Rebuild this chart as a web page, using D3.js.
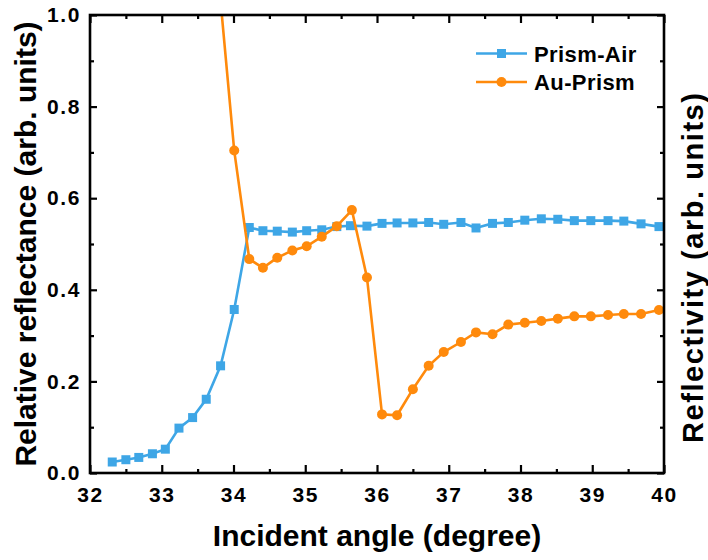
<!DOCTYPE html>
<html>
<head>
<meta charset="utf-8">
<script src="https://cdn.jsdelivr.net/npm/d3@7"></script>
<style>
  body { margin: 0; background: #fff; }
  svg { display: block; }
</style>
</head>
<body>
<svg id="chart"></svg>
<script>
// values
const airAngles = [32.31, 32.50, 32.68, 32.87, 33.05, 33.24, 33.43, 33.62, 33.82, 34.01,
  34.22, 34.41, 34.61, 34.82, 35.02, 35.23, 35.44, 35.63, 35.86, 36.07, 36.28, 36.50,
  36.72, 36.93, 37.17, 37.38, 37.61, 37.83, 38.06, 38.29, 38.52, 38.75, 38.98, 39.22,
  39.44, 39.68, 39.93];
const airValues = [0.024, 0.029, 0.034, 0.042, 0.052, 0.098, 0.121, 0.161, 0.234, 0.357,
  0.536, 0.529, 0.528, 0.526, 0.529, 0.531, 0.538, 0.540, 0.539, 0.545, 0.546, 0.546,
  0.547, 0.543, 0.547, 0.535, 0.545, 0.547, 0.552, 0.555, 0.554, 0.551, 0.551, 0.551,
  0.550, 0.544, 0.538];

const auAngles = [33.82, 34.01, 34.22, 34.41, 34.61, 34.82, 35.02, 35.23, 35.44, 35.65,
  35.86, 36.07, 36.28, 36.50, 36.72, 36.93, 37.17, 37.38, 37.61, 37.83, 38.06, 38.29,
  38.52, 38.75, 38.98, 39.22, 39.44, 39.68, 39.93];
const auValues = [1.03, 0.704, 0.467, 0.448, 0.470, 0.486, 0.495, 0.516, 0.539, 0.574,
  0.427, 0.128, 0.126, 0.183, 0.234, 0.264, 0.286, 0.307, 0.303, 0.324, 0.328, 0.332,
  0.337, 0.342, 0.342, 0.345, 0.347, 0.347, 0.356];

const seriesNames = ["Prism-Air", "Au-Prism"];
const xMajor = [32, 33, 34, 35, 36, 37, 38, 39, 40];
const yMajor = [0, 0.2, 0.4, 0.6, 0.8, 1.0];

const width = 708, height = 560;
const margin = {top: 15, right: 44, bottom: 87, left: 90};
const blue = "#3ea6e6", orange = "#ff8a0c";
const font = "'Liberation Sans', Arial, sans-serif";

const svg = d3.select("#chart")
  .attr("width", width)
  .attr("height", height);

const x = d3.scaleLinear().domain([32, 40]).range([margin.left, width - margin.right]);
const y = d3.scaleLinear().domain([0, 1]).range([height - margin.bottom, margin.top]);

const xMinor = d3.range(32.5, 40, 1);
const yMinor = d3.range(0.1, 1, 0.2);

// ticks on all four sides, pointing inward
function addAxis(axis, transform, labels) {
  const g = svg.append("g").attr("transform", transform).call(axis);
  g.select(".domain").remove();
  g.selectAll("line").attr("stroke", "#000").attr("stroke-width", 2.2);
  g.attr("font-size", 21).attr("font-family", font);
  g.selectAll("text")
    .attr("font-size", 21)
    .style("font-family", font)
    .style("font-weight", "bold")
    .style("font-size", "21px")
    .style("letter-spacing", "1.6px")
    .attr("fill", "#000");
  if (!labels) g.selectAll("text").remove();
  return g;
}

addAxis(d3.axisBottom(x).tickValues(xMajor).tickFormat(d3.format("d")).tickSizeInner(-8).tickSizeOuter(0).tickPadding(14),
  `translate(0,${y(0)})`, true);
addAxis(d3.axisBottom(x).tickValues(xMinor).tickSizeInner(-4).tickSizeOuter(0), `translate(0,${y(0)})`, false);
addAxis(d3.axisTop(x).tickValues(xMajor).tickSizeInner(-8).tickSizeOuter(0), `translate(0,${y(1)})`, false);
addAxis(d3.axisTop(x).tickValues(xMinor).tickSizeInner(-4).tickSizeOuter(0), `translate(0,${y(1)})`, false);

addAxis(d3.axisLeft(y).tickValues(yMajor).tickFormat(d3.format(".1f")).tickSizeInner(-7).tickSizeOuter(0).tickPadding(9),
  `translate(${x(32)},0)`, true);
addAxis(d3.axisLeft(y).tickValues(yMinor).tickSizeInner(-4).tickSizeOuter(0), `translate(${x(32)},0)`, false);
addAxis(d3.axisRight(y).tickValues(yMajor).tickSizeInner(-7).tickSizeOuter(0), `translate(${x(40)},0)`, false);
addAxis(d3.axisRight(y).tickValues(yMinor).tickSizeInner(-4).tickSizeOuter(0), `translate(${x(40)},0)`, false);

svg.append("clipPath").attr("id", "plot-clip")
  .append("rect")
  .attr("x", x(32)).attr("y", y(1))
  .attr("width", x(40) - x(32)).attr("height", y(0) - y(1));

const plot = svg.append("g").attr("clip-path", "url(#plot-clip)");

const line = d3.line()
  .x(d => x(d[0]))
  .y(d => y(d[1]));

const airData = airAngles.map((a, i) => [a, airValues[i]]);
const auData = auAngles.map((a, i) => [a, auValues[i]]);

plot.append("path")
  .attr("d", line(airData))
  .attr("fill", "none")
  .attr("stroke", blue)
  .attr("stroke-width", 2.6);

plot.selectAll(".sq")
  .data(airData)
  .enter().append("rect")
  .attr("x", d => x(d[0]) - 4.5)
  .attr("y", d => y(d[1]) - 4.5)
  .attr("width", 9)
  .attr("height", 9)
  .attr("fill", blue);

plot.append("path")
  .attr("d", line(auData))
  .attr("fill", "none")
  .attr("stroke", orange)
  .attr("stroke-width", 2.6);

plot.selectAll(".dot")
  .data(auData)
  .enter().append("circle")
  .attr("cx", d => x(d[0]))
  .attr("cy", d => y(d[1]))
  .attr("r", 5)
  .attr("fill", orange);

// frame
svg.append("rect")
  .attr("x", x(32)).attr("y", y(1))
  .attr("width", x(40) - x(32)).attr("height", y(0) - y(1))
  .attr("fill", "none")
  .attr("stroke", "#000")
  .attr("stroke-width", 2.6);

// legend
const legend = svg.append("g");
[blue, orange].forEach((c, i) => {
  const ly = 53.5 + i * 28.5;
  legend.append("line")
    .attr("x1", 476).attr("x2", 527)
    .attr("y1", ly).attr("y2", ly)
    .attr("stroke", c).attr("stroke-width", 2.6);
  if (i === 0) {
    legend.append("rect")
      .attr("x", 497).attr("y", ly - 4.5)
      .attr("width", 9).attr("height", 9)
      .attr("fill", c);
  } else {
    legend.append("circle")
      .attr("cx", 501.5).attr("cy", ly)
      .attr("r", 5).attr("fill", c);
  }
  legend.append("text")
    .attr("x", 534).attr("y", ly + 8)
    .attr("font-family", font)
    .attr("font-weight", "bold")
    .attr("font-size", 22)
    .attr("letter-spacing", 0.4)
    .text(seriesNames[i]);
});

// axis titles
svg.append("text")
  .attr("x", (x(32) + x(40)) / 2)
  .attr("y", 546)
  .attr("text-anchor", "middle")
  .attr("font-family", font)
  .attr("font-weight", "bold")
  .attr("font-size", 30)
  .text("Incident angle (degree)");

svg.append("text")
  .attr("transform", `translate(36,${(y(0) + y(1)) / 2}) rotate(-90)`)
  .attr("text-anchor", "middle")
  .attr("font-family", font)
  .attr("font-weight", "bold")
  .attr("font-size", 30)
  .text("Relative reflectance (arb. units)");

svg.append("text")
  .attr("transform", `translate(703,268) rotate(-90)`)
  .attr("text-anchor", "middle")
  .attr("font-family", font)
  .attr("font-weight", "bold")
  .attr("font-size", 29)
  .attr("textLength", 350)
  .attr("lengthAdjust", "spacing")
  .text("Reflectivity (arb. units)");
</script>
</body>
</html>
